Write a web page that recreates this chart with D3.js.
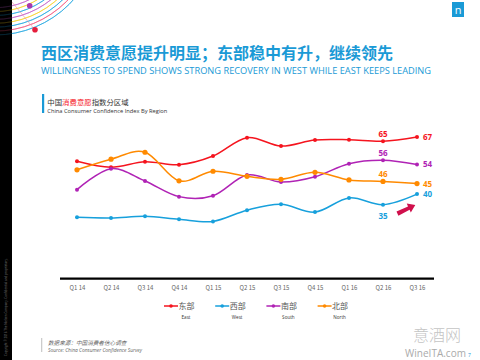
<!DOCTYPE html>
<html><head><meta charset="utf-8">
<script src="https://cdn.jsdelivr.net/npm/d3@7"></script>
<style>body{margin:0;background:#fff}svg{display:block}</style>
</head><body>
<svg id="c" width="480" height="360"></svg>
<script>
const quarters = ["Q1 14","Q2 14","Q3 14","Q4 14","Q1 15","Q2 15","Q3 15","Q4 15","Q1 16","Q2 16","Q3 16"];
const east  = [55.5,52.7,55.3,53.9,58.0,66.7,62.7,65.6,65.7,65,67];
const west  = [29.0,28.7,29.5,28.1,27.1,32.4,35.2,31.5,38.2,35,40];
const south = [42.1,52.0,46.2,38.8,39.2,49.0,45.7,48.2,54.4,56,54];
const north = [51.5,56.5,59.8,46.3,50.8,48.4,47.0,50.3,46.7,46,45];
const seriesNames = ["东部","西部","南部","北部"];
const seriesEn = ["East","West","South","North"];
const colors = ["#f5141e","#17a0dc","#b023b5","#ff8a00"];
const labeled = [ // [series index, quarter index, position]
  [0,9,"above"],[0,10,"right"],[1,9,"below"],[1,10,"right"],
  [2,9,"above"],[2,10,"right"],[3,9,"above"],[3,10,"right"]
];
const seriesData = [east, west, south, north];
const cjk = "'Noto Sans CJK SC','Noto Sans',sans-serif";
const lat = "'Open Sans','Noto Sans',sans-serif";

const svg = d3.select("#c");

// left black band
svg.append("rect").attr("x",0).attr("y",0).attr("width",12).attr("height",360).attr("fill","#000");
svg.append("text").attr("transform","translate(7,356) rotate(-90)")
  .attr("font-family",lat).attr("font-size",3).attr("fill","#777")
  .text("Copyright © 2016 The Nielsen Company. Confidential and proprietary.");

// decorative arcs top-left
const arcCols = ["#1aa3e0","#f2507a","#1aa3e0","#f5d020","#c05ac8","#1aa3e0","#f5d020","#c05ac8"];
const deco = svg.append("g");
arcCols.forEach((c,i)=>{
  const r = 105 - i*3.9;
  deco.append("path").attr("d", d3.arc()({innerRadius:r,outerRadius:r,startAngle:Math.PI*0.5,endAngle:Math.PI}))
    .attr("transform","translate(-5,-70)").attr("fill","none").attr("stroke",c).attr("stroke-width",0.8).attr("opacity",0.8);
});
deco.append("line").attr("x1",12).attr("y1",2).attr("x2",35).attr("y2",30).attr("stroke","#f08aa0").attr("stroke-width",0.6);
deco.append("rect").attr("x",0).attr("y",0).attr("width",12).attr("height",40).attr("fill","#000").attr("opacity",0.75);
deco.append("circle").attr("cx",29.7).attr("cy",5.7).attr("r",2.8).attr("fill","#a93ab0");
deco.append("circle").attr("cx",35).attr("cy",29.7).attr("r",2.8).attr("fill","#e51e3c");

// logo
svg.append("rect").attr("x",452).attr("y",2).attr("width",12).attr("height",15).attr("fill","#1a9ad6");
svg.append("text").attr("x",458).attr("y",14).attr("text-anchor","middle").attr("font-family",lat)
  .attr("font-size",11).attr("fill","#fff").text("n");

// titles
svg.append("text").attr("x",41).attr("y",59).attr("font-family",cjk).attr("font-weight","bold")
  .attr("font-size",16).attr("fill","#1a9ad6").attr("textLength",352).attr("lengthAdjust","spacingAndGlyphs")
  .text("西区消费意愿提升明显；东部稳中有升，继续领先");
svg.append("text").attr("x",41).attr("y",74.3).attr("font-family",lat)
  .attr("font-size",9).attr("fill","#1a9ad6").attr("textLength",390).attr("lengthAdjust","spacingAndGlyphs")
  .text("WILLINGNESS TO SPEND SHOWS STRONG RECOVERY IN WEST WHILE EAST KEEPS LEADING");

// chart caption
svg.append("rect").attr("x",42).attr("y",94).attr("width",2.2).attr("height",19).attr("fill","#1a9ad6");
const cap = svg.append("text").attr("x",47.3).attr("y",105).attr("font-family",cjk).attr("font-size",7.4).attr("fill","#333");
cap.append("tspan").text("中国");
cap.append("tspan").attr("fill","#f5141e").text("消费意愿");
cap.append("tspan").text("指数分区域");
svg.append("text").attr("x",47.3).attr("y",112.5).attr("font-family",lat).attr("font-size",4.9).attr("fill","#333")
  .attr("textLength",120).attr("lengthAdjust","spacingAndGlyphs").text("China Consumer Confidence Index By Region");

// scales
const x = d3.scalePoint().domain(quarters).range([60,434]).padding(0.5);
const y = d3.scaleLinear().domain([0,67]).range([278.7,137]);

// axis
const ax = svg.append("g").attr("transform","translate(0,278.7)")
  .call(d3.axisBottom(x).tickSize(0).tickPadding(7));
ax.select(".domain").attr("stroke","#000").attr("stroke-width",2.2).attr("d","M60,0H434");
ax.selectAll("text").attr("font-family",cjk).attr("font-size",6).attr("fill","#666");

// lines
const line = d3.line().x((d,i)=>x(quarters[i])).y(d=>y(d)).curve(d3.curveCardinal.tension(0));
seriesData.forEach((s,k)=>{
  svg.append("path").datum(s).attr("d",line).attr("fill","none").attr("stroke",colors[k]).attr("stroke-width",1.5);
  svg.selectAll(null).data(s).enter().append("circle")
    .attr("cx",(d,i)=>x(quarters[i])).attr("cy",d=>y(d)).attr("r",k===3?2.6:2).attr("fill",colors[k]);
});

// data labels
labeled.forEach(([k,i,pos])=>{
  const v = seriesData[k][i];
  const t = svg.append("text").attr("font-family",lat).attr("font-weight","bold").attr("font-size",8)
    .attr("fill",colors[k]).text(Math.round(v));
  if(pos==="above") t.attr("x",x(quarters[i])).attr("y",y(v)-4).attr("text-anchor","middle");
  else if(pos==="below") t.attr("x",x(quarters[i])).attr("y",y(v)+14.5).attr("text-anchor","middle");
  else t.attr("x",x(quarters[i])+6).attr("y",y(v)+3).attr("text-anchor","start");
});

// red arrow
svg.append("path")
  .attr("d","M396.5,211.5 L408,206.5 L406.8,203.6 L415.3,205 L410.8,212.6 L409.6,209.8 L398.4,215.8 Z")
  .attr("fill","#d0104c");

// legend
const lg = svg.append("g");
seriesNames.forEach((n,k)=>{
  const x0 = 164 + k*51.2;
  lg.append("line").attr("x1",x0).attr("x2",x0+14).attr("y1",306).attr("y2",306).attr("stroke",colors[k]).attr("stroke-width",1.5);
  lg.append("circle").attr("cx",x0+7).attr("cy",306).attr("r",1.8).attr("fill",colors[k]);
  lg.append("text").attr("x",x0+14.5).attr("y",309).attr("font-family",cjk).attr("font-size",8).attr("fill","#555").text(n);
  lg.append("text").attr("x",x0+22).attr("y",318.5).attr("text-anchor","middle").attr("font-family",lat)
    .attr("font-size",4.6).attr("fill","#333").text(seriesEn[k]);
});

// footer source
svg.append("rect").attr("x",41).attr("y",338).attr("width",1.3).attr("height",14).attr("fill","#ccc");
svg.append("text").attr("x",48).attr("y",345).attr("font-family",cjk).attr("font-style","italic")
  .attr("font-size",5.6).attr("fill","#666").text("数据来源：中国消费者信心调查");
svg.append("text").attr("x",48).attr("y",351.5).attr("font-family",lat).attr("font-style","italic")
  .attr("font-size",4.8).attr("fill","#666").attr("textLength",94).attr("lengthAdjust","spacingAndGlyphs")
  .text("Source: China Consumer Confidence Survey");

// watermark
svg.append("text").attr("x",437).attr("y",341).attr("text-anchor","middle").attr("font-family",cjk)
  .attr("font-weight",300).attr("font-size",16).attr("fill","#c4c4c4").text("意酒网");
svg.append("text").attr("x",435.5).attr("y",356.5).attr("text-anchor","middle").attr("font-family",lat)
  .attr("font-size",10).attr("fill","#aaa").text("WineITA.com");
svg.append("text").attr("x",468).attr("y",357).attr("font-family",lat).attr("font-size",5).attr("fill","#1a9ad6").text("7");
</script>
</body></html>
